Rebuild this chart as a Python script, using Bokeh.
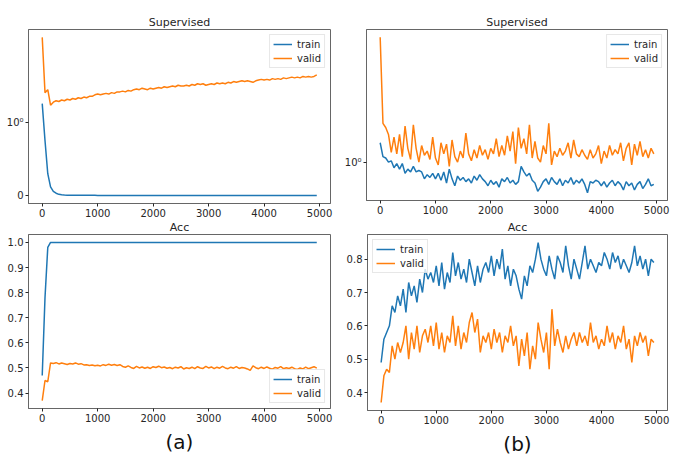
import math
from bokeh.plotting import figure
from bokeh.layouts import column, row
from bokeh.models import Range1d, FixedTicker, PrintfTickFormatter
from bokeh.embed import file_html
from bokeh.resources import INLINE

# ---------------- data ----------------
steps = list(range(0, 5000, 50))
x_ticks = [0, 1000, 2000, 3000, 4000, 5000]
series_names = ["train", "valid"]

# (a) Supervised loss (symlog axis)
sup_a_train = ([1.25, 0.75, 0.30, 0.12, 0.06, 0.035, 0.02, 0.014, 0.01, 0.008]
               + [0.006] * 10 + [0.005] * 20 + [0.004] * 30 + [0.003] * 30)
sup_a_valid = [2.42, 1.40, 1.44, 1.23, 1.27, 1.29, 1.28, 1.30, 1.29, 1.31,
               1.30, 1.32, 1.31, 1.33, 1.32, 1.34, 1.33, 1.35, 1.35, 1.37,
               1.38, 1.37, 1.38, 1.39, 1.38, 1.40, 1.39, 1.41, 1.41, 1.42,
               1.41, 1.43, 1.42, 1.44, 1.45, 1.44, 1.46, 1.45, 1.44, 1.46,
               1.45, 1.46, 1.47, 1.46, 1.48, 1.47, 1.48, 1.49, 1.48, 1.50,
               1.49, 1.49, 1.50, 1.49, 1.51, 1.50, 1.52, 1.51, 1.52, 1.50,
               1.51, 1.52, 1.51, 1.53, 1.52, 1.53, 1.52, 1.54, 1.53, 1.55,
               1.54, 1.55, 1.56, 1.55, 1.56, 1.55, 1.54, 1.56, 1.57, 1.58,
               1.57, 1.58, 1.57, 1.59, 1.58, 1.59, 1.58, 1.60, 1.59, 1.60,
               1.61, 1.60, 1.61, 1.60, 1.62, 1.61, 1.62, 1.61, 1.62, 1.64]

# (a) Accuracy
acc_a_train = [0.47, 0.78, 0.98] + [1.0] * 97
acc_a_valid = [0.37, 0.45, 0.445, 0.52, 0.518, 0.521, 0.516, 0.52, 0.517, 0.514,
               0.518, 0.516, 0.52, 0.515, 0.517, 0.512, 0.513, 0.51, 0.512, 0.509,
               0.511, 0.508, 0.513, 0.51, 0.515, 0.511, 0.514, 0.51, 0.513, 0.506,
               0.503, 0.508, 0.502, 0.498, 0.506, 0.50, 0.504, 0.499, 0.503, 0.498,
               0.505, 0.502, 0.507, 0.501, 0.504, 0.499, 0.502, 0.497, 0.503, 0.50,
               0.505, 0.496, 0.501, 0.498, 0.503, 0.497, 0.505, 0.50, 0.498, 0.506,
               0.50, 0.504, 0.497, 0.503, 0.499, 0.506, 0.50, 0.497, 0.503, 0.499,
               0.505, 0.498, 0.502, 0.50, 0.496, 0.49, 0.508, 0.501, 0.497, 0.503,
               0.498, 0.504, 0.499, 0.495, 0.502, 0.499, 0.505, 0.497, 0.501, 0.498,
               0.503, 0.497, 0.494, 0.50, 0.496, 0.503, 0.497, 0.501, 0.505, 0.499]

# (b) Supervised loss (symlog axis)
sup_b_train = [1.14, 1.04, 1.03, 1.00, 1.01, 0.96, 0.99, 0.95, 0.99, 0.92,
               0.95, 0.93, 0.97, 0.93, 0.94, 0.93, 0.88, 0.91, 0.89, 0.92,
               0.88, 0.92, 0.87, 0.93, 0.85, 0.95, 0.88, 0.83, 0.90, 0.87,
               0.89, 0.86, 0.88, 0.85, 0.90, 0.87, 0.91, 0.88, 0.86, 0.83,
               0.87, 0.84, 0.86, 0.82, 0.88, 0.86, 0.89, 0.85, 0.87, 0.84,
               0.86, 0.97, 0.93, 0.90, 0.92, 0.87, 0.85, 0.79, 0.82, 0.86,
               0.88, 0.84, 0.89, 0.86, 0.84, 0.88, 0.83, 0.87, 0.85, 0.89,
               0.84, 0.87, 0.85, 0.88, 0.84, 0.78, 0.86, 0.85, 0.87, 0.86,
               0.83, 0.86, 0.82, 0.85, 0.87, 0.83, 0.86, 0.84, 0.80, 0.86,
               0.83, 0.85, 0.80, 0.84, 0.86, 0.81, 0.84, 0.88, 0.83, 0.84]
sup_b_valid = [1.90, 1.28, 1.25, 1.20, 1.07, 1.18, 1.06, 1.20, 1.04, 1.26,
               1.10, 1.02, 1.27, 1.10, 1.00, 1.12, 1.05, 1.08, 1.02, 1.18,
               1.03, 0.98, 1.14, 1.06, 1.13, 0.97, 1.16, 1.04, 1.00, 1.08,
               1.03, 1.21, 1.06, 1.01, 1.09, 1.03, 1.12, 1.05, 1.09, 1.02,
               1.10, 1.06, 1.17, 1.04, 1.12, 1.05, 1.19, 1.08, 1.22, 0.99,
               1.25, 1.10, 1.17, 1.06, 1.27, 1.03, 1.15, 1.03, 1.00, 1.12,
               1.06, 1.28, 0.98, 1.08, 1.04, 1.10, 1.05, 1.08, 1.14, 1.03,
               1.16, 1.06, 1.04, 1.09, 1.05, 1.02, 1.09, 1.03, 1.06, 1.12,
               0.99, 1.08, 1.03, 1.12, 1.05, 1.09, 1.06, 1.14, 1.01, 1.10,
               1.14, 0.98, 1.13, 1.05, 1.15, 1.04, 1.09, 1.03, 1.10, 1.06]

# (b) Accuracy
acc_b_train = [0.49, 0.56, 0.58, 0.60, 0.66, 0.64, 0.69, 0.66, 0.71, 0.64,
               0.73, 0.69, 0.72, 0.67, 0.74, 0.70, 0.77, 0.74, 0.76, 0.73,
               0.78, 0.72, 0.79, 0.71, 0.76, 0.73, 0.82, 0.75, 0.79, 0.74,
               0.77, 0.73, 0.80, 0.76, 0.72, 0.78, 0.73, 0.77, 0.79, 0.76,
               0.81, 0.75, 0.80, 0.77, 0.83, 0.74, 0.78, 0.72, 0.77, 0.75,
               0.71, 0.68, 0.75, 0.72, 0.78, 0.76, 0.80, 0.85, 0.80, 0.77,
               0.75, 0.81, 0.77, 0.74, 0.81, 0.79, 0.76, 0.84, 0.78, 0.74,
               0.80, 0.77, 0.74, 0.79, 0.84, 0.77, 0.80, 0.78, 0.76, 0.79,
               0.78, 0.82, 0.80, 0.77, 0.82, 0.79, 0.81, 0.77, 0.80, 0.78,
               0.76, 0.79, 0.84, 0.78, 0.81, 0.77, 0.80, 0.75, 0.80, 0.79]
acc_b_valid = [0.37, 0.45, 0.47, 0.46, 0.54, 0.50, 0.55, 0.52, 0.55, 0.60,
               0.50, 0.58, 0.53, 0.60, 0.52, 0.57, 0.59, 0.55, 0.60, 0.54,
               0.61, 0.53, 0.58, 0.52, 0.57, 0.55, 0.63, 0.54, 0.60, 0.53,
               0.58, 0.55, 0.61, 0.64, 0.58, 0.62, 0.52, 0.57, 0.55, 0.58,
               0.53, 0.59, 0.55, 0.58, 0.52, 0.57, 0.55, 0.60, 0.54, 0.57,
               0.48, 0.56, 0.51, 0.58, 0.47, 0.54, 0.50, 0.61, 0.56, 0.52,
               0.58, 0.47, 0.65, 0.54, 0.59, 0.55, 0.52, 0.57, 0.53, 0.56,
               0.58, 0.54, 0.58, 0.55, 0.57, 0.54, 0.61, 0.55, 0.57, 0.53,
               0.56, 0.54, 0.60, 0.55, 0.58, 0.53, 0.57, 0.55, 0.60, 0.53,
               0.56, 0.49, 0.57, 0.54, 0.58, 0.55, 0.57, 0.51, 0.56, 0.55]

BLUE = "#1f77b4"
ORANGE = "#ff7f0e"
FONT = "DejaVu Sans"
TXT = "#262626"
SPINE = "#666666"


def symlog(v, linthresh=2.0):
    a = abs(v)
    if a <= linthresh:
        return v
    return math.copysign(linthresh * (1 + 0.9 * math.log10(a / linthresh)), v)


def padded(vals, frac=0.05):
    lo, hi = min(vals), max(vals)
    d = (hi - lo) * frac
    return Range1d(lo - d, hi + d)


def make_fig(title, fw, fh, bl, br, bt, bb, y1, y2, legend_loc,
             yticks, ylabels=None, yfmt=None, xlabel=None):
    xr = padded(steps)
    yr = padded(list(y1) + list(y2))
    p = figure(frame_width=fw, frame_height=fh, x_range=xr, y_range=yr,
               output_backend="svg", toolbar_location=None, title=title,
               min_border_left=bl, min_border_right=br,
               min_border_top=bt, min_border_bottom=bb)
    p.title.align = "center"
    p.title.text_font = FONT
    p.title.text_font_size = "11px"
    p.title.text_font_style = "normal"
    p.title.text_color = TXT
    p.title.standoff = 2
    p.title.offset = 0
    p.xgrid.visible = False
    p.ygrid.visible = False
    p.outline_line_color = SPINE
    p.outline_line_width = 1
    p.background_fill_color = "white"
    p.border_fill_color = "white"

    p.line(steps, y1, color=BLUE, line_width=1.5, legend_label=series_names[0])
    p.line(steps, y2, color=ORANGE, line_width=1.5, legend_label=series_names[1])

    for ax in (p.xaxis[0], p.yaxis[0]):
        ax.axis_line_color = SPINE
        ax.major_tick_line_color = TXT
        ax.major_tick_out = 3
        ax.major_tick_in = 0
        ax.minor_tick_line_color = None
        ax.major_label_text_font = FONT
        ax.major_label_text_font_size = "10px"
        ax.major_label_text_color = TXT
        ax.major_label_standoff = 2
    p.xaxis.ticker = FixedTicker(ticks=x_ticks)
    p.yaxis.ticker = FixedTicker(ticks=yticks)
    if ylabels is not None:
        p.yaxis.major_label_overrides = ylabels
    if yfmt is not None:
        p.yaxis.formatter = PrintfTickFormatter(format=yfmt)
    if xlabel is not None:
        p.xaxis.axis_label = xlabel
        p.xaxis.axis_label_text_font = FONT
        p.xaxis.axis_label_text_font_size = "20px"
        p.xaxis.axis_label_text_font_style = "normal"
        p.xaxis.axis_label_text_color = "#111111"
        p.xaxis.axis_label_standoff = 5

    lg = p.legend[0]
    lg.location = legend_loc
    lg.label_text_font = FONT
    lg.label_text_font_size = "10px"
    lg.label_text_color = TXT
    lg.glyph_width = 19
    lg.glyph_height = 12
    lg.label_height = 12
    lg.label_standoff = 5
    lg.spacing = 2
    lg.padding = 3
    lg.margin = 5
    lg.border_line_color = "#d0d0d0"
    lg.border_line_width = 1
    lg.background_fill_alpha = 0.8
    return p


sym_ticks = [0, 1]
sym_labels = {0: "0", 1: "10⁰"}

p1 = make_fig("Supervised", 302, 174, 28, 7, 25, 18,
              [symlog(v) for v in sup_a_train], [symlog(v) for v in sup_a_valid],
              "top_right", sym_ticks, ylabels=sym_labels)
p2 = make_fig("Supervised", 301, 171, 29, 6, 29, 17,
              [symlog(v) for v in sup_b_train], [symlog(v) for v in sup_b_valid],
              "top_right", sym_ticks, ylabels=sym_labels)
p3 = make_fig("Acc", 302, 174, 28, 7, 15, 42,
              acc_a_train, acc_a_valid, "bottom_right",
              [0.4, 0.5, 0.6, 0.7, 0.8, 0.9, 1.0], yfmt="%.1f", xlabel="(a)")
p4 = make_fig("Acc", 300, 176, 30, 6, 15, 40,
              acc_b_train, acc_b_valid, "top_left",
              [0.4, 0.5, 0.6, 0.7, 0.8], yfmt="%.1f", xlabel="(b)")

layout = column(row(p1, p2), row(p3, p4))

with open("out.html", "w") as f:
    f.write(file_html(layout, INLINE))
